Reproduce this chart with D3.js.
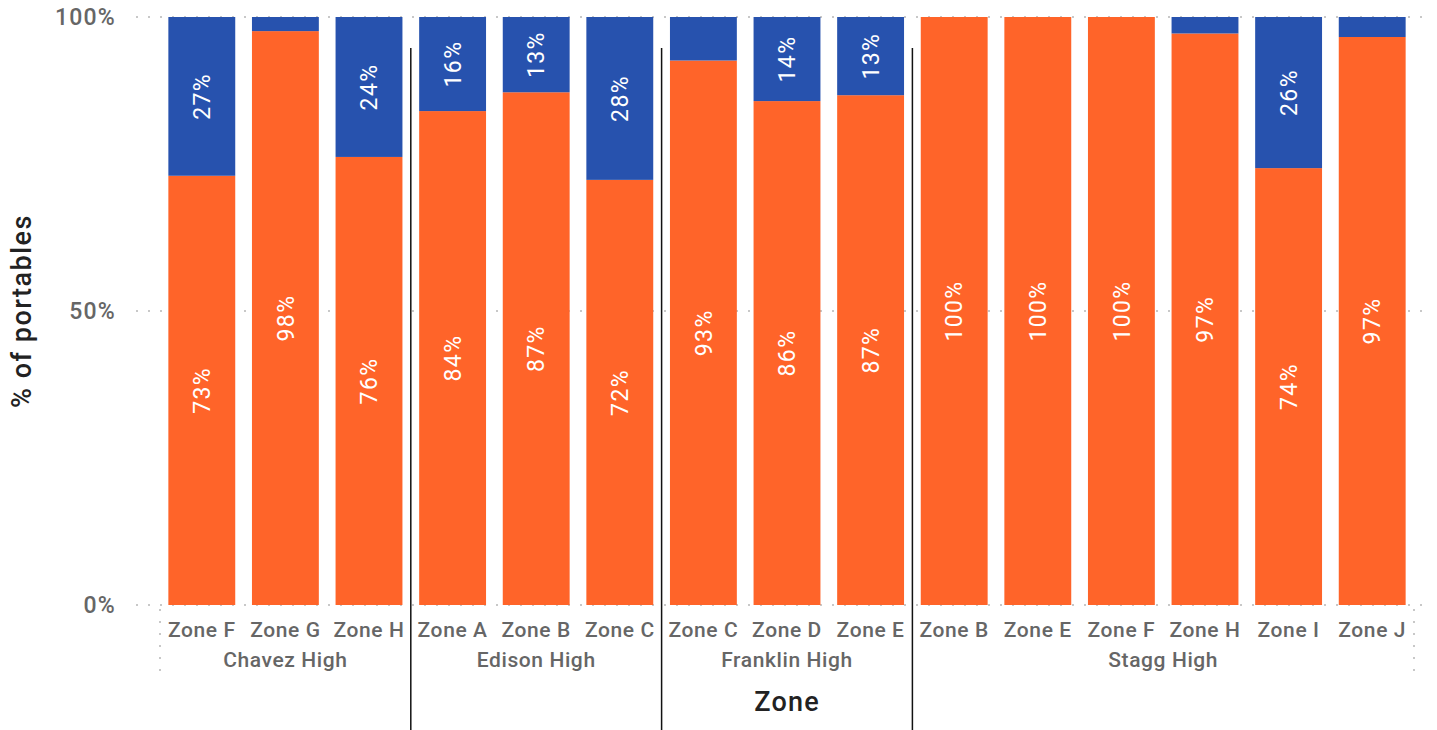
<!DOCTYPE html>
<html><head><meta charset="utf-8">
<script src="https://cdn.jsdelivr.net/npm/d3@7"></script>
<style>body{margin:0;background:#fff;} svg{display:block;}</style>
</head><body>
<svg id="chart" width="1437" height="730"></svg>
<script>
const schools = ["Chavez High","Chavez High","Chavez High","Edison High","Edison High","Edison High","Franklin High","Franklin High","Franklin High","Stagg High","Stagg High","Stagg High","Stagg High","Stagg High","Stagg High"];
const zones = ["Zone F","Zone G","Zone H","Zone A","Zone B","Zone C","Zone C","Zone D","Zone E","Zone B","Zone E","Zone F","Zone H","Zone I","Zone J"];
const orangeShare = [73.0, 97.6, 76.2, 84.0, 87.2, 72.3, 92.6, 85.7, 86.7, 100, 100, 100, 97.2, 74.3, 96.6];
const blueShare = [27.0, 2.4, 23.8, 16.0, 12.8, 27.7, 7.4, 14.3, 13.3, 0, 0, 0, 2.8, 25.7, 3.4];
const yTicks = [0, 50, 100];
const groupNames = ["Chavez High","Edison High","Franklin High","Stagg High"];

const svg = d3.select("#chart");
const pLeft = 160, pRight = 1414, pTop = 17, pBottom = 605;
const keys = d3.range(zones.length);
const x = d3.scaleBand().domain(keys).range([pLeft, pRight]).paddingInner(0.2).paddingOuter(0.1);
const y = d3.scaleLinear().domain([0, 100]).range([pBottom, pTop]);
const orange = "#FF6429", blue = "#2752AE";
const gray = "#666";
const font = "Roboto, 'Liberation Sans', sans-serif";

// gridlines
svg.append("g").selectAll("line").data(yTicks).join("line")
  .attr("x1", 136).attr("x2", 1432)
  .attr("y1", d => y(d)).attr("y2", d => y(d))
  .attr("stroke", "#c8c8c8").attr("stroke-width", 2)
  .attr("stroke-dasharray", "2,10");

// header verticals (dotted)
[pLeft, pRight].forEach(xx => {
  svg.append("line").attr("x1", xx).attr("x2", xx).attr("y1", 609).attr("y2", 676)
    .attr("stroke", "#c8c8c8").attr("stroke-width", 2).attr("stroke-dasharray", "2,10");
});

// y ticks
svg.append("g").selectAll("text").data(yTicks).join("text")
  .attr("x", 116).attr("y", d => y(d)).attr("dy", "0.35em")
  .attr("text-anchor", "end").attr("fill", gray)
  .style("font", `500 23px ${font}`).style("letter-spacing", "1.2px").text(d => d + "%");

// bars
const g = svg.append("g");
keys.forEach(i => {
  const o = orangeShare[i], b = blueShare[i];
  g.append("rect").attr("x", x(i)).attr("width", x.bandwidth())
    .attr("y", y(o)).attr("height", y(0) - y(o)).attr("fill", orange);
  if (b > 0) g.append("rect").attr("x", x(i)).attr("width", x.bandwidth())
    .attr("y", y(o + b)).attr("height", y(o) - y(o + b)).attr("fill", blue);
  const cx = x(i) + x.bandwidth() / 2;
  const addLabel = (v, mid) => {
    g.append("text").attr("transform", `translate(${cx},${y(mid)}) rotate(-90)`)
      .attr("text-anchor", "middle").attr("dy", "0.36em").attr("fill", "#fff")
      .style("font", `400 23px ${font}`).style("letter-spacing", "1.4px").text(Math.round(v) + "%");
  };
  addLabel(o, o / 2);
  if (b >= 10) addLabel(b, o + b / 2);
});

// zone labels
svg.append("g").selectAll("text").data(keys).join("text")
  .attr("x", d => x(d) + x.bandwidth() / 2).attr("y", 630).attr("dy", "0.35em")
  .attr("text-anchor", "middle").attr("fill", gray)
  .style("font", `500 21px ${font}`).style("letter-spacing", "0.6px").text(d => zones[d]);

// group labels & dividers
groupNames.forEach((name, gi) => {
  const idx = keys.filter(i => schools[i] === name);
  const x0 = x(idx[0]) - x.step() * x.paddingInner() / 2;
  const x1 = x(idx[idx.length - 1]) + x.bandwidth() + x.step() * x.paddingInner() / 2;
  svg.append("text").attr("x", (x0 + x1) / 2).attr("y", 660).attr("dy", "0.35em")
    .attr("text-anchor", "middle").attr("fill", gray)
    .style("font", `500 21px ${font}`).style("letter-spacing", "0.6px").text(name);
  if (gi > 0) {
    svg.append("line").attr("x1", x0).attr("x2", x0).attr("y1", 48).attr("y2", 730)
      .attr("stroke", "#111").attr("stroke-width", 1.5);
  }
});

// axis titles
svg.append("text").attr("x", 787).attr("y", 702).attr("dy", "0.35em")
  .attr("text-anchor", "middle").attr("fill", "#222")
  .style("font", `500 27px ${font}`).style("letter-spacing", "1.2px").text("Zone");
svg.append("text").attr("transform", `translate(22,311) rotate(-90)`)
  .attr("text-anchor", "middle").attr("dy", "0.35em").attr("fill", "#222")
  .style("font", `500 27px ${font}`).style("letter-spacing", "1.5px").text("% of portables");
</script>
</body></html>
